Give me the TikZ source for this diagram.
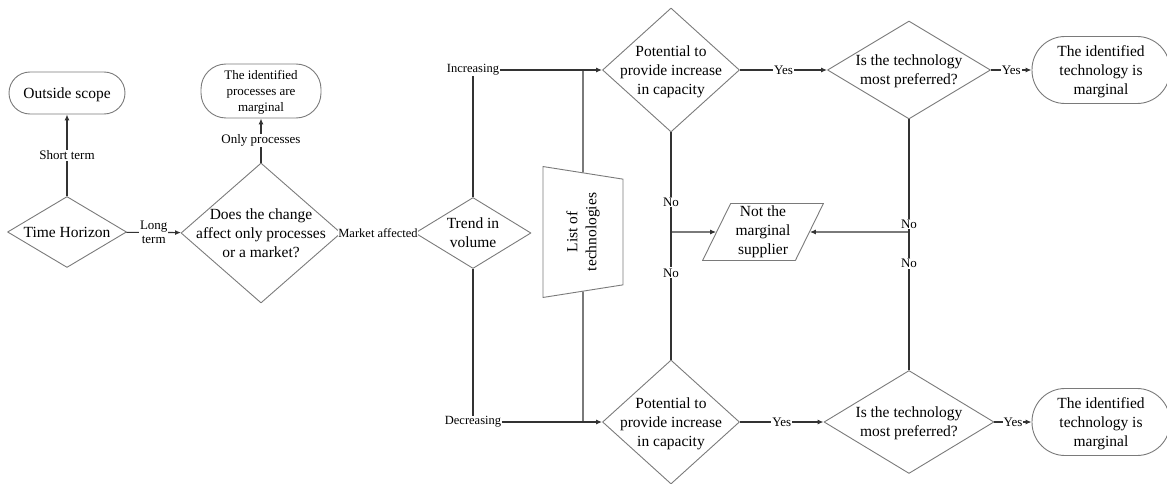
\documentclass[tikz,border=0pt]{standalone}
\usepackage{fontspec}
\setmainfont{LiberationSerif}[Extension=.ttf, UprightFont=*-Regular, BoldFont=*-Bold,
  ItalicFont=*-Italic, BoldItalicFont=*-BoldItalic]
\usetikzlibrary{positioning, arrows.meta, shapes.geometric}
\definecolor{flowLine}{HTML}{333333}
\definecolor{flowEdge}{HTML}{7A7A7A}
% text that leaves the shape at its own size
\newcommand{\boxtxt}[1]{\makebox[0pt]{\smash{\raisebox{-0.33em}{\begin{tabular}{@{}c@{}}#1\end{tabular}}}}}

\begin{document}
\begin{tikzpicture}[x=1pt, y=-1pt, line join=round,
    every node/.style={font=\rmfamily\fontsize{15.5}{19}\selectfont},
    decision/.style={diamond, draw=flowEdge, line width=0.9pt, inner sep=0pt},
    terminal/.style={rectangle, draw=flowEdge, line width=0.9pt, inner sep=0pt},
    slanted/.style={trapezium, draw=flowEdge, line width=0.9pt, inner sep=0pt,
      align=center, trapezium stretches=true},
    conn/.style={draw=flowLine, line width=1.1pt},
    arr/.style={conn, -{Latex[length=6pt, width=5pt]}},
    lbl/.style={fill=white, inner sep=1pt, font=\rmfamily\fontsize{13}{14}\selectfont},
    sml/.style={lbl, inner sep=0.5pt, font=\rmfamily\fontsize{12.5}{14}\selectfont}]
  \useasboundingbox (0,0) rectangle (1167,484);

  % Scope of the change
  \node[decision, minimum width=119pt, minimum height=71pt] (th) at (67,232) {\boxtxt{Time Horizon}};
  \node[terminal, rounded corners=21pt, minimum width=116pt, minimum height=42pt] (out) at (67,93) {\boxtxt{Outside scope}};
  \node[decision, minimum width=160pt, minimum height=140pt] (dc) at (261,233)
    {\boxtxt{Does the change\\affect only processes\\or a market?}};
  \node[terminal, rounded corners=25pt, minimum width=120pt, minimum height=54pt,
    font=\rmfamily\fontsize{13}{16}\selectfont] (proc) at (261,91) {\boxtxt{The identified\\processes are\\marginal}};
  \node[decision, minimum width=116pt, minimum height=71pt] (tv) at (473,233) {\boxtxt{Trend in\\volume}};
  \node[sml] (inc) at (473,70) {Increasing};
  \node[sml] (dec) at (473,422) {Decreasing};

  % Technologies
  \node[slanted, rotate=90, trapezium left angle=105.7, trapezium right angle=105.7,
    minimum width=131pt, minimum height=80pt] (tech) at (583,232) {List of\\technologies};
  \node[decision, minimum width=137pt, minimum height=124pt] (pot1) at (671,70)
    {\boxtxt{Potential to\\provide increase\\in capacity}};
  \node[decision, minimum width=137pt, minimum height=124pt] (pot2) at (671,422)
    {\boxtxt{Potential to\\provide increase\\in capacity}};
  \node[slanted, trapezium left angle=65.5, trapezium right angle=114.5,
    minimum width=121pt, minimum height=57pt] (nms) at (763,232) {Not the\\marginal\\supplier};
  \node[decision, minimum width=163pt, minimum height=98pt] (pmp1) at (909,70)
    {\boxtxt{Is the technology\\most preferred?}};
  \node[decision, minimum width=170pt, minimum height=103pt] (pmp2) at (909,422)
    {\boxtxt{Is the technology\\most preferred?}};
  \node[terminal, rounded corners=33pt, minimum width=138pt, minimum height=67pt] (end1) at (1101,70)
    {\boxtxt{The identified\\technology is\\marginal}};
  \node[terminal, rounded corners=33pt, minimum width=138pt, minimum height=67pt] (end2) at (1101,422)
    {\boxtxt{The identified\\technology is\\marginal}};

  % Connectors
  \draw[arr] (th) -- node[lbl] {Short term} (out);
  \draw[arr] (th) -- node[lbl, align=center] {Long\\term} (dc);
  \draw[arr] (dc) -- node[lbl] {Only processes} (proc);
  \draw[arr] (dc) -- node[sml] {Market affected} (tv);
  \draw[conn] (tv) -- (inc);
  \draw[conn] (tv) -- (dec);
  \draw[arr] (inc) -- (pot1);
  \draw[arr] (dec) -- (pot2);
  \coordinate (jt) at (tech |- inc);
  \coordinate (jb) at (tech |- dec);
  \draw[conn] (tech) -- (jt);
  \draw[conn] (tech) -- (jb);
  % No branches meet at the supplier box
  \coordinate (jl) at (pot1 |- nms);
  \coordinate (jr) at (pmp1 |- nms);
  \draw[conn] (pot1) -- node[lbl, pos=0.7] {No} (jl);
  \draw[conn] (pot2) -- node[lbl, pos=0.68] {No} (jl);
  \draw[arr] (jl) -- (nms);
  \draw[conn] (pmp1) -- node[lbl, pos=0.93] {No} (jr);
  \draw[conn] (pmp2) -- node[lbl, pos=0.77] {No} (jr);
  \draw[arr] (jr) -- (nms);
  \foreach \a/\b in {pot1/pmp1, pmp1/end1, pot2/pmp2, pmp2/end2}
    \draw[arr] (\a) -- node[lbl] {Yes} (\b);
\end{tikzpicture}
\end{document}
